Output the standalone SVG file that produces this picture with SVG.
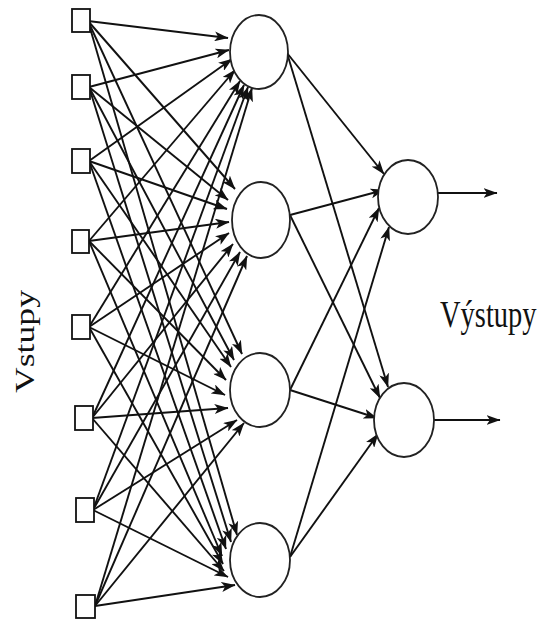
<svg xmlns="http://www.w3.org/2000/svg" width="539" height="622" viewBox="0 0 539 622">
<style>
.box{fill:#fff;stroke:#111;stroke-width:1.8}
.neu{fill:#fff;stroke:#222;stroke-width:1.8}
.con line{stroke:#111;stroke-width:1.9;marker-end:url(#ah)}
.lbl{font-family:"Liberation Serif","Times New Roman",serif;fill:#111}
</style>
<defs>
<marker id="ah" markerUnits="userSpaceOnUse" viewBox="0 0 14 10" refX="13.5" refY="5" markerWidth="14" markerHeight="10" orient="auto">
<path d="M0,0 L14,5 L0,10 L3.5,5 z" fill="#111"/>
</marker>
</defs>
<rect width="539" height="622" fill="#fff"/>
<g class="con" id="connectors">
<line x1="88" y1="21" x2="228" y2="38"/>
<line x1="88" y1="21" x2="235" y2="189"/>
<line x1="88" y1="21" x2="242" y2="354"/>
<line x1="88" y1="21" x2="237" y2="535"/>
<line x1="89" y1="87" x2="229" y2="50"/>
<line x1="89" y1="87" x2="228" y2="200"/>
<line x1="89" y1="87" x2="234" y2="360"/>
<line x1="89" y1="87" x2="231" y2="542"/>
<line x1="89" y1="161" x2="232" y2="59"/>
<line x1="89" y1="161" x2="227" y2="209"/>
<line x1="89" y1="161" x2="231" y2="367"/>
<line x1="89" y1="161" x2="226" y2="549"/>
<line x1="89" y1="241" x2="235" y2="70"/>
<line x1="89" y1="241" x2="229" y2="222"/>
<line x1="89" y1="241" x2="226" y2="380"/>
<line x1="89" y1="241" x2="222" y2="556"/>
<line x1="89" y1="327" x2="240" y2="81"/>
<line x1="89" y1="327" x2="229" y2="233"/>
<line x1="89" y1="327" x2="225" y2="395"/>
<line x1="89" y1="327" x2="223" y2="564"/>
<line x1="92" y1="418" x2="244" y2="85"/>
<line x1="92" y1="418" x2="233" y2="244"/>
<line x1="92" y1="418" x2="228" y2="408"/>
<line x1="92" y1="418" x2="224" y2="571"/>
<line x1="93" y1="510" x2="248" y2="87"/>
<line x1="93" y1="510" x2="240" y2="252"/>
<line x1="93" y1="510" x2="237" y2="420"/>
<line x1="93" y1="510" x2="228" y2="577"/>
<line x1="95" y1="606" x2="252" y2="88"/>
<line x1="95" y1="606" x2="247" y2="256"/>
<line x1="95" y1="606" x2="244" y2="423"/>
<line x1="95" y1="606" x2="235" y2="585"/>
<line x1="287" y1="53" x2="384" y2="174"/>
<line x1="287" y1="53" x2="388" y2="387"/>
<line x1="290" y1="215" x2="384" y2="190"/>
<line x1="290" y1="215" x2="380" y2="398"/>
<line x1="290" y1="390" x2="379" y2="208"/>
<line x1="290" y1="390" x2="377" y2="418"/>
<line x1="290" y1="557" x2="389" y2="227"/>
<line x1="290" y1="557" x2="378" y2="434"/>
<line x1="438" y1="193" x2="497" y2="193"/>
<line x1="434" y1="420" x2="500" y2="420"/>
</g>
<g id="in1"><rect class="box" x="72" y="9" width="18" height="23"/></g>
<g id="in2"><rect class="box" x="72" y="75" width="18" height="24"/></g>
<g id="in3"><rect class="box" x="72" y="149" width="18" height="24"/></g>
<g id="in4"><rect class="box" x="72" y="230" width="17" height="23"/></g>
<g id="in5"><rect class="box" x="72" y="315" width="18" height="24"/></g>
<g id="in6"><rect class="box" x="75" y="406" width="18" height="24"/></g>
<g id="in7"><rect class="box" x="76" y="498" width="18" height="24"/></g>
<g id="in8"><rect class="box" x="76" y="595" width="19" height="23"/></g>
<g id="h1"><ellipse class="neu" cx="259" cy="52" rx="29" ry="37"/></g>
<g id="h2"><ellipse class="neu" cx="261" cy="220" rx="29" ry="38"/></g>
<g id="h3"><ellipse class="neu" cx="260" cy="390" rx="30" ry="37"/></g>
<g id="h4"><ellipse class="neu" cx="260" cy="560" rx="30" ry="37"/></g>
<g id="o1"><ellipse class="neu" cx="408" cy="197" rx="30" ry="37"/></g>
<g id="o2"><ellipse class="neu" cx="404" cy="420" rx="30" ry="37"/></g>
<g id="label-in"><text class="lbl" font-size="27" transform="translate(34,393) rotate(-90) scale(1.32,1)">Vstupy</text></g>
<g id="label-out"><text class="lbl" font-size="28.5" transform="translate(440,327) scale(1,1.32)">Výstupy</text></g>
</svg>
